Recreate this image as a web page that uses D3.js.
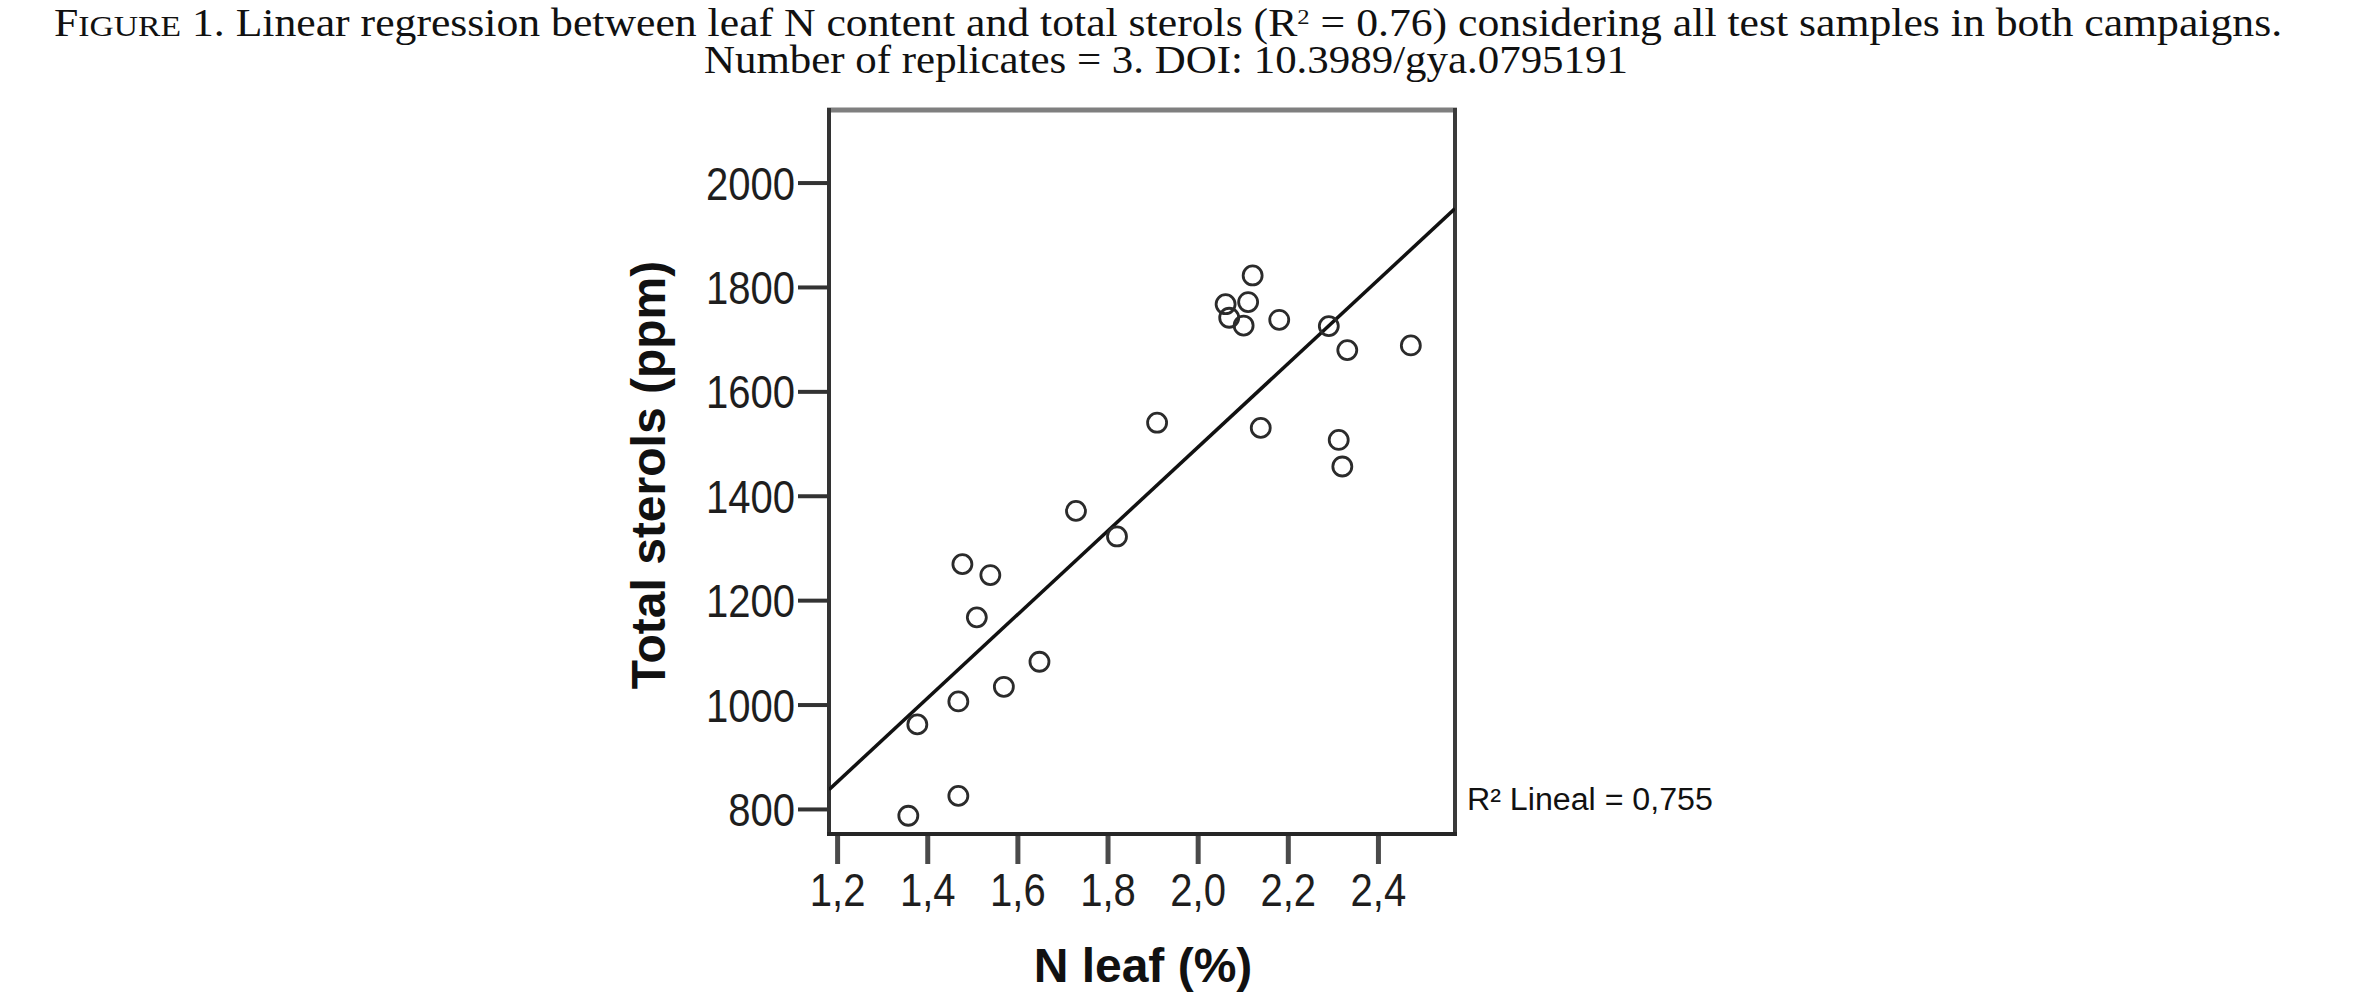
<!DOCTYPE html>
<html>
<head>
<meta charset="utf-8">
<script src="https://cdn.jsdelivr.net/npm/d3@7"></script>
<style>
  html, body { margin: 0; padding: 0; background: #fff; }
  svg { display: block; }
</style>
</head>
<body>
<div id="chart"></div>
<script>
// --- data ---
const nLeaf = [
  2.122, 2.112, 2.062, 2.070, 2.102, 2.181, 2.291, 2.332, 2.473, 2.140, 2.313, 2.321,
  1.910, 1.730, 1.821, 1.478, 1.540, 1.510, 1.649, 1.570, 1.469, 1.378, 1.469, 1.358
];
const totalSterols = [
  1822, 1771, 1767, 1741, 1726, 1737, 1725, 1679, 1688, 1530, 1507, 1456,
  1540, 1371, 1322, 1269, 1248, 1167, 1082, 1034, 1006, 962, 825, 787
];
// fitted line, ends read at the frame edges
const fitX = [1.182, 2.571];
const fitY = [837, 1950];

const xTicks = [1.2, 1.4, 1.6, 1.8, 2.0, 2.2, 2.4];
const yTicks = [800, 1000, 1200, 1400, 1600, 1800, 2000];
const xDomain = [1.182, 2.571];
const yDomain = [752, 2139];

const r2Label = 'R\u00b2 Lineal = 0,755';
const xTitle = 'N leaf (%)';
const yTitle = 'Total sterols (ppm)';

const W = 2360, H = 1006;
const box = { left: 829, right: 1455, top: 110, bottom: 834 };
const sans = '"Liberation Sans", Arial, sans-serif';
const serif = '"Liberation Serif", "Times New Roman", serif';

const svg = d3.select('#chart').append('svg')
  .attr('width', W)
  .attr('height', H);

svg.append('rect').attr('width', W).attr('height', H).attr('fill', '#fff');

// squeeze/stretch a text to a measured width, keeping its left edge at x0
function fitWidth(sel, x0, w) {
  const b = sel.node().getBBox();
  const k = w / b.width;
  sel.attr('transform', `translate(${x0},0) scale(${k},1) translate(${-b.x},0)`);
}

// --- caption ---
const t1 = svg.append('text')
  .attr('x', 0).attr('y', 36)
  .attr('font-family', serif).attr('font-size', 39).attr('fill', '#111');
t1.append('tspan').text('F');
t1.append('tspan').attr('font-size', 30).text('IGURE');
t1.append('tspan').text(' 1. Linear regression between leaf N content and total sterols (R');
t1.append('tspan').attr('font-size', 22).attr('dy', -12).text('2');
t1.append('tspan').attr('dy', 12).text(' = 0.76) considering all test samples in both campaigns.');
fitWidth(t1, 54, 2229);

const t2 = svg.append('text')
  .attr('x', 0).attr('y', 73)
  .attr('font-family', serif).attr('font-size', 39).attr('fill', '#111')
  .text('Number of replicates = 3. DOI: 10.3989/gya.0795191');
fitWidth(t2, 704, 924);

// --- scales ---
const x = d3.scaleLinear().domain(xDomain).range([box.left, box.right]);
const y = d3.scaleLinear().domain(yDomain).range([box.bottom, box.top]);

// --- frame ---
const frame = svg.append('g').attr('class', 'frame');
frame.append('line')
  .attr('x1', box.left - 2).attr('x2', box.right + 2)
  .attr('y1', box.top).attr('y2', box.top)
  .attr('stroke', '#7f7f7f').attr('stroke-width', 5);
frame.append('line')
  .attr('x1', box.right).attr('x2', box.right)
  .attr('y1', box.top - 2).attr('y2', box.bottom + 2)
  .attr('stroke', '#3a3a3a').attr('stroke-width', 4);
frame.append('line')
  .attr('x1', box.left).attr('x2', box.left)
  .attr('y1', box.top - 2).attr('y2', box.bottom + 2)
  .attr('stroke', '#333').attr('stroke-width', 4);
frame.append('line')
  .attr('x1', box.left - 2).attr('x2', box.right + 2)
  .attr('y1', box.bottom).attr('y2', box.bottom)
  .attr('stroke', '#262626').attr('stroke-width', 4);

// --- axes ---
const yAxis = svg.append('g')
  .attr('transform', `translate(${box.left - 2},0)`)
  .call(d3.axisLeft(y).tickValues(yTicks).tickSize(29).tickPadding(4).tickFormat(d3.format('d')));
yAxis.select('.domain').remove();
yAxis.selectAll('.tick line').attr('stroke', '#333').attr('stroke-width', 4);
yAxis.selectAll('.tick text')
  .attr('x', 0).attr('dy', '0.36em')
  .attr('transform', 'translate(-32,0) scale(0.87,1)')
  .attr('font-family', sans).attr('font-size', 46).attr('fill', '#1e1e1e');

const xAxis = svg.append('g')
  .attr('transform', `translate(0,${box.bottom + 2})`)
  .call(d3.axisBottom(x).tickValues(xTicks).tickSize(28).tickPadding(9)
    .tickFormat(d => d3.format('.1f')(d).replace('.', ',')));
xAxis.select('.domain').remove();
xAxis.selectAll('.tick line').attr('stroke', '#4a4a4a').attr('stroke-width', 5);
xAxis.selectAll('.tick text')
  .attr('transform', 'scale(0.87,1)')
  .attr('font-family', sans).attr('font-size', 46).attr('fill', '#1e1e1e');

// --- axis titles ---
svg.append('text')
  .attr('transform', 'translate(665,475) rotate(-90)')
  .attr('text-anchor', 'middle')
  .attr('font-family', sans).attr('font-weight', 700).attr('font-size', 48).attr('fill', '#111')
  .text(yTitle);

svg.append('text')
  .attr('x', 1143).attr('y', 982)
  .attr('text-anchor', 'middle')
  .attr('font-family', sans).attr('font-weight', 700).attr('font-size', 48).attr('fill', '#111')
  .text(xTitle);

// --- fit line ---
svg.append('clipPath').attr('id', 'plot-clip')
  .append('rect')
  .attr('x', box.left).attr('y', box.top)
  .attr('width', box.right - box.left).attr('height', box.bottom - box.top);

const fitLine = d3.line().x(d => x(d[0])).y(d => y(d[1]));
svg.append('path')
  .datum(d3.zip(fitX, fitY))
  .attr('clip-path', 'url(#plot-clip)')
  .attr('d', fitLine)
  .attr('fill', 'none')
  .attr('stroke', '#111')
  .attr('stroke-width', 3.5);

// --- points ---
svg.append('g').selectAll('circle')
  .data(d3.zip(nLeaf, totalSterols))
  .join('circle')
  .attr('cx', d => x(d[0]))
  .attr('cy', d => y(d[1]))
  .attr('r', 9.5)
  .attr('fill', 'none')
  .attr('stroke', '#2b2b2b')
  .attr('stroke-width', 2.8);

// --- R² note ---
const r2 = svg.append('text')
  .attr('x', 0).attr('y', 810)
  .attr('font-family', sans).attr('font-size', 31).attr('fill', '#111')
  .text(r2Label);
fitWidth(r2, 1467, 246);
</script>
</body>
</html>
